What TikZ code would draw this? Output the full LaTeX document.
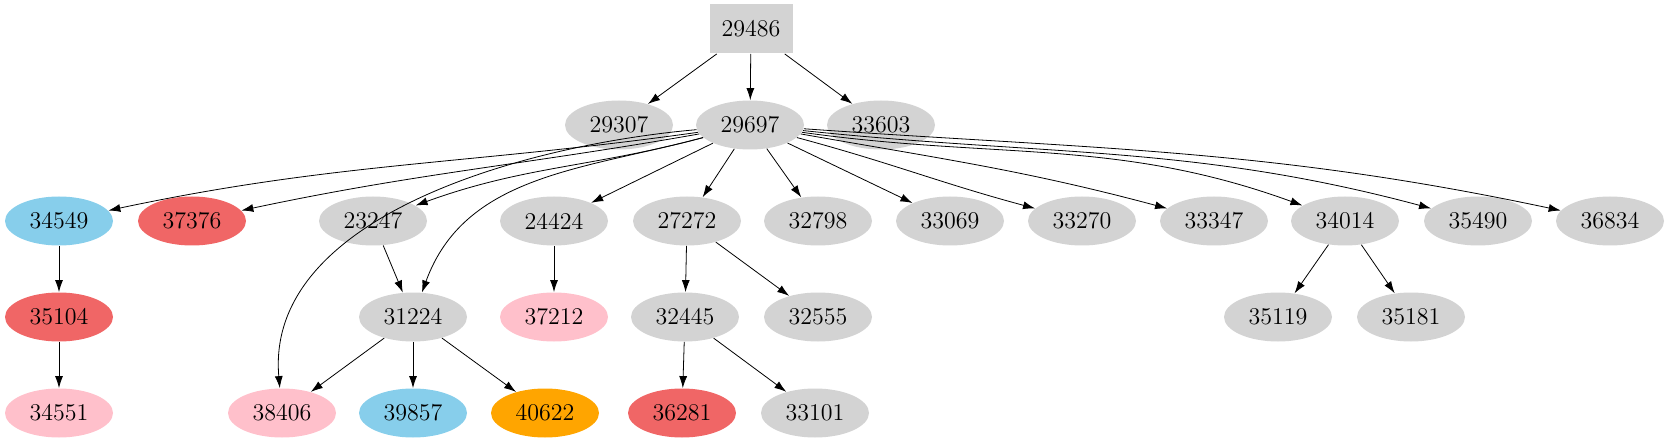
\documentclass[tikz,border=0pt]{standalone}
\usepackage{tikz}
\usetikzlibrary{arrows.meta, shapes.geometric}
\definecolor{gnode}{HTML}{D3D3D3}
\definecolor{bnode}{HTML}{87CEEB}
\definecolor{rnode}{HTML}{F06666}
\definecolor{pnode}{HTML}{FFC0CB}
\definecolor{onode}{HTML}{FFA500}
\begin{document}
\begin{tikzpicture}[
          x=0.5pt, y=-0.5pt,
          every node/.style={ellipse, fill=gnode, minimum width=54pt, minimum height=24.5pt, inner sep=0pt, font=\fontsize{12}{14}\selectfont},
          boxnode/.style={rectangle, minimum width=41.5pt},
          edge/.style={-{Latex[length=6pt,width=4pt]}, draw},
          >=Latex
        ]
        \useasboundingbox (0,0) rectangle (1669,443);
        % top
        \node [boxnode] (n29486) at (751,29) {29486};
        \node (n29307) at (619,125) {29307};
        \node (n29697) at (750,125) {29697};
        \node (n33603) at (881,125) {33603};
        % second row
        \node [fill=bnode] (n34549) at (59,221) {34549};
        \node [fill=rnode] (n37376) at (192,221) {37376};
        \node (n23247) at (373,221) {23247};
        \node (n24424) at (554,221) {24424};
        \node (n27272) at (687,221) {27272};
        \node (n32798) at (818,221) {32798};
        \node (n33069) at (950,221) {33069};
        \node (n33270) at (1082,221) {33270};
        \node (n33347) at (1214,221) {33347};
        \node (n34014) at (1345,221) {34014};
        \node (n35490) at (1478,221) {35490};
        \node (n36834) at (1610,221) {36834};
        % third row
        \node [fill=rnode] (n35104) at (59,317) {35104};
        \node (n31224) at (413,317) {31224};
        \node [fill=pnode] (n37212) at (554,317) {37212};
        \node (n32445) at (685,317) {32445};
        \node (n32555) at (818,317) {32555};
        \node (n35119) at (1278,317) {35119};
        \node (n35181) at (1411,317) {35181};
        % bottom row
        \node [fill=pnode] (n34551) at (59,413) {34551};
        \node [fill=pnode] (n38406) at (282,413) {38406};
        \node [fill=bnode] (n39857) at (413,413) {39857};
        \node [fill=onode] (n40622) at (545,413) {40622};
        \node [fill=rnode] (n36281) at (682,413) {36281};
        \node (n33101) at (815,413) {33101};
        % edges
        \draw [edge] (n29486) -- (n29307);
        \draw [edge] (n29486) -- (n29697);
        \draw [edge] (n29486) -- (n33603);
        \draw [edge] (n29697) to[out=188,in=12] (n34549);
        \draw [edge] (n29697) to[out=190,in=12] (n37376);
        \draw [edge] (n29697) to[out=195,in=20] (n23247);
        \draw [edge] (n29697) to[out=185,in=95,looseness=0.9] (n38406);
        \draw [edge] (n29697) to[out=195,in=70] (n31224);
        \draw [edge] (n29697) -- (n24424);
        \draw [edge] (n29697) -- (n27272);
        \draw [edge] (n29697) -- (n32798);
        \draw [edge] (n29697) -- (n33069);
        \draw [edge] (n29697) to[out=-15,in=165] (n33270);
        \draw [edge] (n29697) to[out=-10,in=165] (n33347);
        \draw [edge] (n29697) to[out=-8,in=160] (n34014);
        \draw [edge] (n29697) to[out=-6,in=165] (n35490);
        \draw [edge] (n29697) to[out=-4,in=168] (n36834);
        \draw [edge] (n34549) -- (n35104);
        \draw [edge] (n35104) -- (n34551);
        \draw [edge] (n23247) -- (n31224);
        \draw [edge] (n24424) -- (n37212);
        \draw [edge] (n27272) -- (n32445);
        \draw [edge] (n27272) -- (n32555);
        \draw [edge] (n34014) -- (n35119);
        \draw [edge] (n34014) -- (n35181);
        \draw [edge] (n31224) -- (n38406);
        \draw [edge] (n31224) -- (n39857);
        \draw [edge] (n31224) -- (n40622);
        \draw [edge] (n32445) -- (n36281);
        \draw [edge] (n32445) -- (n33101);
\end{tikzpicture}
\end{document}
